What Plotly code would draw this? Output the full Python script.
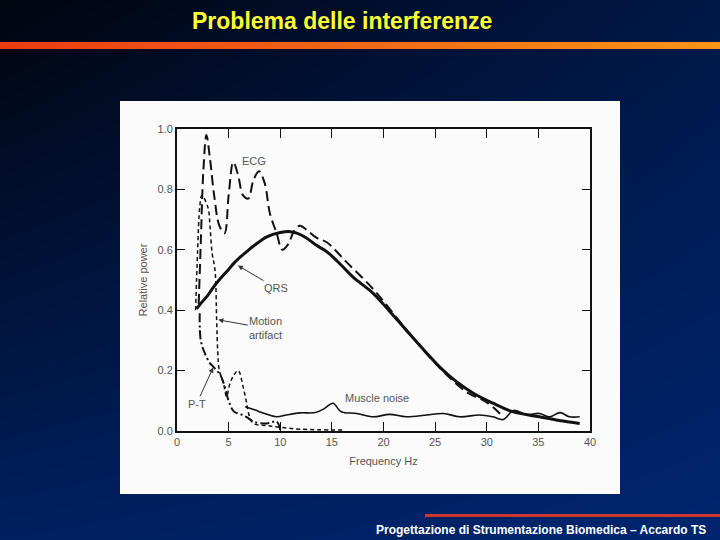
import base64
import struct
import zlib

import numpy as np
import plotly.graph_objects as go

# ---------------- data ----------------
qrs_x = [1.9, 2.5, 3.0, 3.5, 4.2, 5.0, 5.5, 6.0, 6.75, 7.5, 8.7, 10.0, 11.0, 11.6, 12.5,
         13.5, 14.5, 15.8, 17.0, 19.0, 20.5, 22.2, 24.0, 25.5, 27.0, 28.7, 30.6, 32.5,
         35.1, 37.0, 39.0]
qrs_y = [0.405, 0.43, 0.45, 0.475, 0.505, 0.535, 0.555, 0.572, 0.594, 0.615, 0.643, 0.657,
         0.66, 0.655, 0.64, 0.615, 0.594, 0.553, 0.511, 0.456, 0.40, 0.334, 0.265, 0.21,
         0.165, 0.125, 0.092, 0.064, 0.047, 0.035, 0.025]

ecg_x = [2.1, 2.3, 2.55, 2.85, 3.2, 3.6, 4.1, 4.6, 5.0, 5.45, 5.9, 6.4, 6.9, 7.4, 7.94,
         8.5, 9.0, 9.65, 10.2, 10.8, 11.3, 11.9, 12.6, 13.5, 14.5, 16.4, 19.0, 22.0, 25.0,
         28.0, 30.0, 31.5]
ecg_y = [0.42, 0.62, 0.86, 0.98, 0.90, 0.78, 0.68, 0.655, 0.78, 0.89, 0.85, 0.78, 0.77,
         0.83, 0.86, 0.82, 0.72, 0.655, 0.60, 0.62, 0.66, 0.68, 0.665, 0.64, 0.625, 0.56,
         0.47, 0.345, 0.225, 0.13, 0.095, 0.05]

pt_x = [2.2, 2.3, 2.7, 3.2, 3.5, 4.2, 4.6, 5.0, 5.5, 6.2, 6.8, 7.4, 8.7, 9.65, 10.0]
pt_y = [0.39, 0.30, 0.257, 0.224, 0.213, 0.185, 0.15, 0.10, 0.065, 0.055, 0.045, 0.031,
        0.025, 0.031, 0.003]

motion_x = [1.8, 2.0, 2.2, 2.4, 3.0, 3.2, 3.4, 3.68, 3.84, 3.95, 4.1, 4.5, 4.8, 5.13,
            5.5, 5.93, 6.4, 6.75, 7.0, 7.4, 8.7, 10.0, 12.0, 16.0]
motion_y = [0.40, 0.60, 0.74, 0.78, 0.74, 0.676, 0.59, 0.533, 0.368, 0.26, 0.20, 0.158,
            0.114, 0.158, 0.185, 0.20, 0.147, 0.092, 0.05, 0.025, 0.018, 0.012, 0.006, 0.003]

muscle_x = [6.6, 7.5, 8.5, 9.65, 10.6, 11.9, 13.4, 14.3, 15.1, 15.9, 17.4, 19.0, 20.6, 22.2,
            24.2, 25.8, 27.4, 29.3, 30.6, 31.6, 32.6, 33.8, 35.1, 36.1, 37.1, 38.0, 39.0]
muscle_y = [0.08, 0.07, 0.058, 0.047, 0.053, 0.06, 0.061, 0.075, 0.092, 0.064, 0.058, 0.047,
            0.055, 0.047, 0.053, 0.058, 0.047, 0.053, 0.047, 0.038, 0.068, 0.055, 0.058,
            0.047, 0.061, 0.047, 0.047]

x_ticks = [0, 5, 10, 15, 20, 25, 30, 35, 40]
y_ticks = [0.0, 0.2, 0.4, 0.6, 0.8, 1.0]

title_text = "Problema delle interferenze"
footer_text = "Progettazione di Strumentazione Biomedica \u2013 Accardo TS"

# ---------------- slide geometry (pixels) ----------------
FW, FH = 720, 540
PL, PR, PT, PB = 177, 590, 129, 431   # plot area
PW, PH = PR - PL, PB - PT


def px(xp):
    return (xp - PL) / PW


def py(yp):
    return (PB - yp) / PH


# ---------------- background picture (gradient + bars) ----------------
def make_png(arr):
    h, w, _ = arr.shape
    raw = b"".join(b"\x00" + arr[r].tobytes() for r in range(h))

    def chunk(t, d):
        c = struct.pack(">I", len(d)) + t + d
        return c + struct.pack(">I", zlib.crc32(t + d) & 0xFFFFFFFF)

    return (b"\x89PNG\r\n\x1a\n" + chunk(b"IHDR", struct.pack(">IIBBBBB", w, h, 8, 2, 0, 0, 0))
            + chunk(b"IDAT", zlib.compress(raw, 9)) + chunk(b"IEND", b""))


u = np.linspace(0, 1, FW)[None, :, None]
v = np.linspace(0, 1, FH)[:, None, None]
TLc = np.array([2, 5, 15.0])
TRc = np.array([0, 24, 72.0])
BLc = np.array([0, 32, 95.0])
BRc = np.array([0, 38, 112.0])
bg = (TLc * (1 - u) * (1 - v) + TRc * u * (1 - v) + BLc * (1 - u) * v + BRc * u * v)
# top orange bar
t = np.linspace(0, 1, FW)[:, None]
bar = np.array([235, 60, 20.0]) * (1 - t) + np.array([248, 150, 25.0]) * t
bg[42:49, :, :] = bar[None, :, :]
# bottom red bar
bg[514:517, 425:, :] = np.array([205, 55, 45.0])
bg = np.clip(bg, 0, 255).astype(np.uint8)
bg_uri = "data:image/png;base64," + base64.b64encode(make_png(bg)).decode()

# ---------------- figure ----------------
ink = "#111111"
fig = go.Figure()
fig.add_trace(go.Scatter(x=muscle_x, y=muscle_y, mode="lines", name="Muscle noise",
                         line=dict(color=ink, width=1.6, shape="spline")))
fig.add_trace(go.Scatter(x=motion_x, y=motion_y, mode="lines", name="Motion artifact",
                         line=dict(color=ink, width=1.5, dash="4px,3px", shape="spline")))
fig.add_trace(go.Scatter(x=pt_x, y=pt_y, mode="lines", name="P-T",
                         line=dict(color=ink, width=2, dash="9px,3px,2px,3px", shape="spline")))
fig.add_trace(go.Scatter(x=ecg_x, y=ecg_y, mode="lines", name="ECG",
                         line=dict(color=ink, width=2, dash="10px,5px", shape="spline")))
fig.add_trace(go.Scatter(x=qrs_x, y=qrs_y, mode="lines", name="QRS",
                         line=dict(color=ink, width=3, shape="spline")))

lab_font = dict(family="Liberation Sans, Arial, sans-serif", size=11, color="#555555")

annotations = [
    dict(x=7.5, y=0.894, xref="x", yref="y", text="ECG", showarrow=False, font=lab_font),
    dict(x=5.9, y=0.548, xref="x", yref="y", ax=9.6, ay=0.473, axref="x", ayref="y",
         text="QRS", showarrow=True, arrowhead=2, arrowsize=1, arrowwidth=1,
         arrowcolor="#333333", font=lab_font),
    dict(x=4.0, y=0.368, xref="x", yref="y", ax=8.6, ay=0.34, axref="x", ayref="y",
         text="Motion<br>artifact", showarrow=True, arrowhead=2, arrowsize=1, arrowwidth=1,
         arrowcolor="#333333", font=lab_font, align="left"),
    dict(x=3.5, y=0.21, xref="x", yref="y", ax=1.9, ay=0.09, axref="x", ayref="y",
         text="P-T", showarrow=True, arrowhead=2, arrowsize=1, arrowwidth=1,
         arrowcolor="#333333", font=lab_font),
    dict(x=19.4, y=0.109, xref="x", yref="y", text="Muscle noise", showarrow=False,
         font=lab_font),
    dict(x=px(342), y=py(21), xref="paper", yref="paper", text="<b>" + title_text + "</b>",
         showarrow=False, xanchor="center", yanchor="middle",
         font=dict(family="Liberation Sans, Arial, sans-serif", size=23, color="#ffff33")),
    dict(x=px(708), y=py(530), xref="paper", yref="paper", text="<b>" + footer_text + "</b>",
         showarrow=False, xanchor="right", yanchor="middle",
         font=dict(family="Liberation Sans, Arial, sans-serif", size=12, color="#ffffff")),
]

fig.update_layout(
    width=FW, height=FH,
    margin=dict(l=PL, r=FW - PR, t=PT, b=FH - PB, pad=0),
    paper_bgcolor="#001a55",
    plot_bgcolor="#ffffff",
    showlegend=False,
    annotations=annotations,
    images=[dict(source=bg_uri, xref="paper", yref="paper", x=px(0), y=py(0),
                 sizex=FW / PW, sizey=FH / PH, xanchor="left", yanchor="top",
                 sizing="stretch", layer="below")],
    shapes=[dict(type="rect", xref="paper", yref="paper", x0=px(120), x1=px(620),
                 y0=py(494), y1=py(101), fillcolor="#fbfbfb", line=dict(width=0),
                 layer="below")],
)
fig.update_xaxes(range=[0, 40], tickvals=x_ticks, ticktext=[str(v) for v in x_ticks],
                 ticks="inside", ticklen=9, tickcolor=ink, tickwidth=1,
                 showline=True, linecolor=ink, linewidth=2, mirror="ticks",
                 showgrid=False, zeroline=False, tickfont=lab_font,
                 title=dict(text="Frequency Hz", font=lab_font, standoff=10))
fig.update_yaxes(range=[0, 1], tickvals=y_ticks, ticktext=["%.1f" % v for v in y_ticks],
                 ticks="inside", ticklen=8, tickcolor=ink, tickwidth=1,
                 showline=True, linecolor=ink, linewidth=2, mirror="ticks",
                 showgrid=False, zeroline=False, tickfont=lab_font,
                 title=dict(text="Relative power", font=lab_font, standoff=8))

fig.write_html("out.html", config={"displayModeBar": False},
               post_script="document.body.style.margin='0';document.body.style.padding='0';"
                           "document.body.style.background='#001a55';")
